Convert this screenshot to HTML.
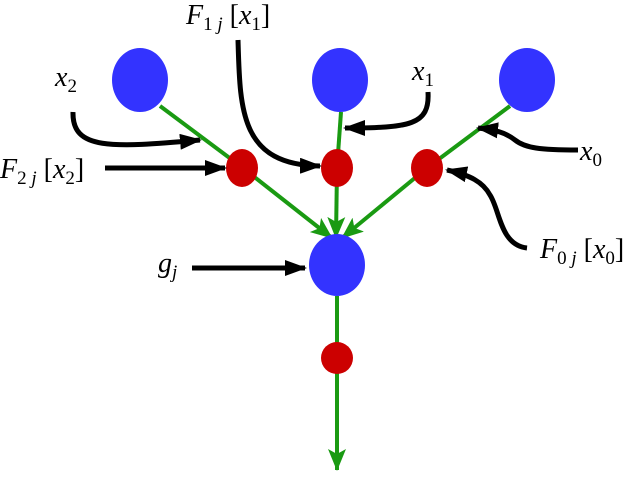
<!DOCTYPE html>
<html><head><style>
body{margin:0;background:#fff}
svg text{font-family:"Liberation Serif",serif;font-size:28px}
</style></head><body>
<svg width="640" height="474" viewBox="0 0 640 474" xmlns="http://www.w3.org/2000/svg">
<defs>
<marker id="ak" markerWidth="22" markerHeight="16" refX="20" refY="8" orient="auto" markerUnits="userSpaceOnUse"><path d="M0,0 L22,8 L0,16 z" fill="#000"/></marker>
<marker id="ag" markerWidth="22" markerHeight="18" refX="21" refY="9" orient="auto" markerUnits="userSpaceOnUse"><path d="M0,0 L22,9 L0,18 L5,9 z" fill="#1a9a12"/></marker>
</defs>
<g stroke="#1a9a12" stroke-width="4" fill="none">
<line x1="160" y1="106" x2="243" y2="168"/>
<line x1="243" y1="168" x2="332" y2="238" marker-end="url(#ag)"/>
<line x1="341" y1="112" x2="337" y2="168"/>
<line x1="337" y1="168" x2="336" y2="238" marker-end="url(#ag)"/>
<line x1="510" y1="106" x2="427" y2="168"/>
<line x1="427" y1="168" x2="342" y2="238" marker-end="url(#ag)"/>
<line x1="337" y1="296" x2="337" y2="470" marker-end="url(#ag)"/>
</g>
<g fill="#3333ff">
<ellipse cx="140" cy="80" rx="28" ry="32"/>
<ellipse cx="340" cy="80" rx="28" ry="32"/>
<ellipse cx="527" cy="80" rx="28" ry="32"/>
<ellipse cx="337" cy="265" rx="28" ry="31"/>
</g>
<g fill="#cc0000">
<ellipse cx="242" cy="168" rx="16" ry="19"/>
<ellipse cx="337" cy="168" rx="16" ry="19"/>
<ellipse cx="427" cy="168" rx="16" ry="19"/>
<ellipse cx="337" cy="358" rx="16" ry="16"/>
</g>
<g stroke="#000" stroke-width="5" fill="none">
<path d="M73,112 C72,150 110,148 200,140" marker-end="url(#ak)"/>
<path d="M105,168 L225,168" marker-end="url(#ak)"/>
<path d="M238,40 C240,110 240,165 320,166" marker-end="url(#ak)"/>
<path d="M428,92 C430,125 410,128 345,128" marker-end="url(#ak)"/>
<path d="M578,150 C540,150 525,148 515,140 C505,132 495,130 478,128" marker-end="url(#ak)"/>
<path d="M527,248 C500,245 500,210 490,195 C483,182 470,175 447,170" marker-end="url(#ak)"/>
<path d="M192,268 L305,268" marker-end="url(#ak)"/>
</g>
<g font-style="italic">
<text x="55" y="86">x<tspan font-size="19" font-style="normal" dy="6">2</tspan></text>
<text x="0" y="178">F<tspan font-size="19" font-style="normal" dy="6">2</tspan><tspan font-size="19"> j</tspan><tspan dy="-6" font-style="normal"> [</tspan>x<tspan font-size="19" font-style="normal" dy="6">2</tspan><tspan dy="-6" font-style="normal">]</tspan></text>
<text x="186" y="24">F<tspan font-size="19" font-style="normal" dy="6">1</tspan><tspan font-size="19"> j</tspan><tspan dy="-6" font-style="normal"> [</tspan>x<tspan font-size="19" font-style="normal" dy="6">1</tspan><tspan dy="-6" font-style="normal">]</tspan></text>
<text x="412" y="80">x<tspan font-size="19" font-style="normal" dy="6">1</tspan></text>
<text x="580" y="160">x<tspan font-size="19" font-style="normal" dy="6">0</tspan></text>
<text x="540" y="258">F<tspan font-size="19" font-style="normal" dy="6">0</tspan><tspan font-size="19"> j</tspan><tspan dy="-6" font-style="normal"> [</tspan>x<tspan font-size="19" font-style="normal" dy="6">0</tspan><tspan dy="-6" font-style="normal">]</tspan></text>
<text x="158" y="272">g<tspan font-size="19" dy="6">j</tspan></text>
</g>
</svg>
</body></html>
